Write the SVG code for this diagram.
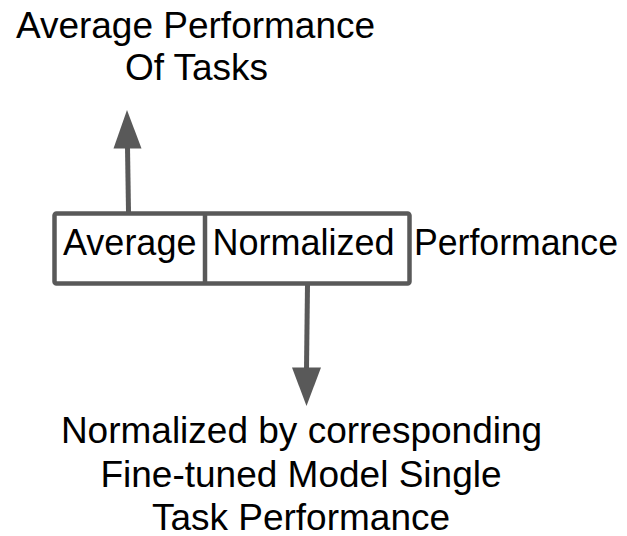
<svg xmlns="http://www.w3.org/2000/svg" width="627" height="536" viewBox="0 0 627 536">
<style>
text { font-family: "Liberation Sans", Arial, sans-serif; font-size: 37px; fill: #000000; }
.c { text-anchor: middle; }
.b { font-size: 36px; }
.box { fill: #ffffff; stroke: #595959; stroke-width: 4.5; stroke-linejoin: round; }
.conn line { stroke: #595959; stroke-width: 5; }
.conn polygon { fill: #595959; stroke: none; }
</style>
<rect width="627" height="536" fill="#ffffff"/>
<g id="top-label">
<text class="c" x="195.5" y="37.5">Average Performance</text>
<text class="c" x="196.5" y="80">Of Tasks</text>
</g>
<g id="box">
<rect class="box" x="54.5" y="213.5" width="355" height="70" rx="2"/>
<line x1="205" y1="213.5" x2="205" y2="283.5" stroke="#595959" stroke-width="4.5"/>
<text class="b" x="63" y="254.5">Average</text>
<text class="b" x="212.5" y="254.5">Normalized</text>
<text class="b" x="414" y="254.5" textLength="204" lengthAdjust="spacingAndGlyphs">Performance</text>
</g>
<g id="bottom-label">
<text class="c" x="301.5" y="443">Normalized by corresponding</text>
<text class="c" x="301" y="487">Fine-tuned Model Single</text>
<text class="c" x="301" y="529.5">Task Performance</text>
</g>
<g id="connectors" class="conn">
<line x1="128.5" y1="212" x2="127.5" y2="147"/>
<polygon points="113.5,148.5 141.5,148.5 127,110"/>
<line x1="307.5" y1="285" x2="306.5" y2="369"/>
<polygon points="292,367.5 321,367.5 306.5,406"/>
</g>
</svg>
